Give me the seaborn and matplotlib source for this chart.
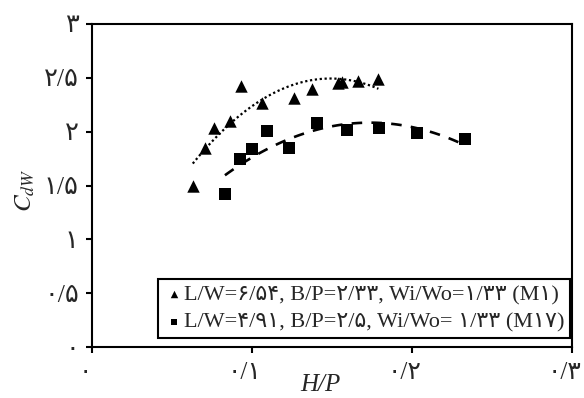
import numpy as np
import pandas as pd
import matplotlib
matplotlib.use("Agg")
import matplotlib.pyplot as plt
import matplotlib.transforms as mtransforms
import seaborn as sns

# Data
m1_x = [0.063, 0.0706, 0.076, 0.086, 0.093, 0.106, 0.126, 0.1375, 0.154, 0.156, 0.166, 0.179]
m1_y = [1.495, 1.85, 2.03, 2.10, 2.42, 2.27, 2.31, 2.40, 2.45, 2.46, 2.47, 2.49]
m17_x = [0.0831, 0.0925, 0.0998, 0.1096, 0.1233, 0.1404, 0.1592, 0.1794, 0.2029, 0.2331]
m17_y = [1.418, 1.743, 1.836, 2.008, 1.845, 2.083, 2.015, 2.031, 1.984, 1.931]

m1_label = "L/W=۶/۵۴, B/P=۲/۳۳, Wi/Wo=۱/۳۳ (M۱)"
m17_label = "L/W=۴/۹۱, B/P=۲/۵, Wi/Wo= ۱/۳۳ (M۱۷)"

xticks = [0, 0.1, 0.2, 0.3]
xtick_labels = ["۰", "۰/۱", "۰/۲", "۰/۳"]
yticks = [0, 0.5, 1, 1.5, 2, 2.5, 3]
ytick_labels = ["۰", "۰/۵", "۱", "۱/۵", "۲", "۲/۵", "۳"]

sns.set_style("ticks")
plt.rcParams['font.family'] = ['Liberation Serif', 'DejaVu Sans']
plt.rcParams['mathtext.fontset'] = 'stix'

fig = plt.figure(figsize=(5.84, 3.98), dpi=100)
ax = fig.add_axes([0.1575, 0.1281, 0.822, 0.8116])

df1 = pd.DataFrame({"x": m1_x, "y": m1_y})
df17 = pd.DataFrame({"x": m17_x, "y": m17_y})

sns.regplot(data=df1, x="x", y="y", order=2, ci=None, scatter=False, ax=ax,
            line_kws=dict(color="black", linestyle=(0, (1, 1.2)), linewidth=1.6))
sns.regplot(data=df17, x="x", y="y", order=2, ci=None, scatter=False, ax=ax,
            line_kws=dict(color="black", linestyle=(0, (4, 3.5)), linewidth=1.9))

sns.scatterplot(data=df1, x="x", y="y", marker="^", s=80, color="black",
                edgecolor="black", linewidth=0, ax=ax, label=m1_label, zorder=3)
sns.scatterplot(data=df17, x="x", y="y", marker="s", s=64, color="black",
                edgecolor="black", linewidth=0, ax=ax, label=m17_label, zorder=3)

ax.set_xlim(0, 0.3)
ax.set_ylim(0, 3)
ax.set_xticks(xticks)
ax.set_xticklabels(xtick_labels, fontsize=18)
ax.set_yticks(yticks)
ax.set_yticklabels(ytick_labels, fontsize=18.5)
ax.tick_params(axis='both', direction='out', length=4.5, width=1.5, color='black')
ax.tick_params(axis='x', pad=6)
ax.tick_params(axis='y', pad=5)
offset = mtransforms.ScaledTranslation(-7 / 100, 0, fig.dpi_scale_trans)
for lab in ax.get_xticklabels():
    lab.set_transform(lab.get_transform() + offset)
for sp in ax.spines.values():
    sp.set_visible(True)
    sp.set_linewidth(1.5)
    sp.set_color('black')

ax.set_xlabel("H/P", fontsize=18, fontstyle='italic')
ax.xaxis.set_label_coords(0.475, -0.08, transform=None) if False else None
ax.xaxis.label.set_verticalalignment('center')
ax.xaxis.set_label_coords((320 - 92) / 480, (347 - 385) / 323)
ax.set_ylabel(r"$C_{dW}$", fontsize=18)
ax.yaxis.label.set_verticalalignment('center')
ax.yaxis.set_label_coords((25 - 92) / 480, (347 - 190) / 323)

leg = ax.legend(loc='lower right', bbox_to_anchor=(0.996, 0.028), borderaxespad=0,
                fontsize=16, frameon=True, fancybox=False, edgecolor='black',
                framealpha=1, handletextpad=0.0, handlelength=0.9, markerscale=0.6,
                borderpad=0.25, labelspacing=0.3)
leg.get_frame().set_linewidth(1.5)

fig.savefig("out.png", dpi=100)
